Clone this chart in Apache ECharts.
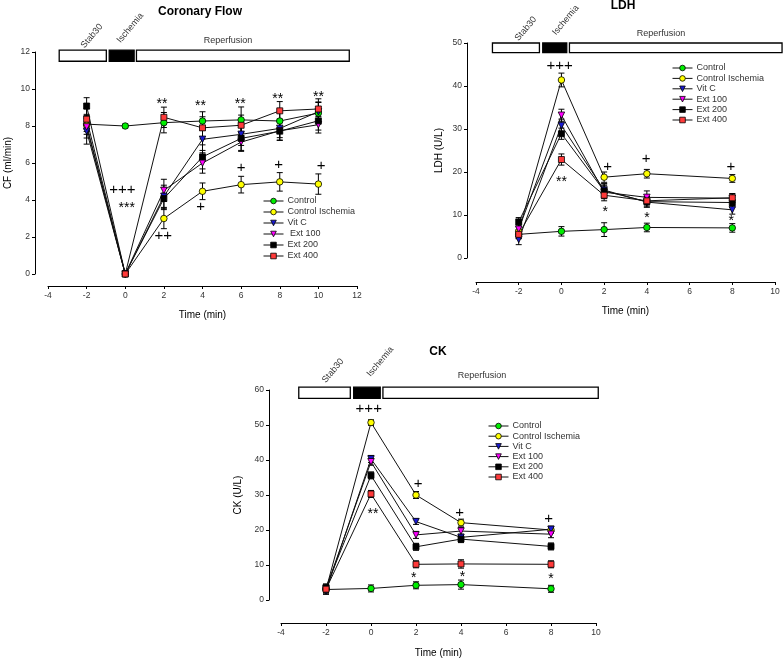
<!DOCTYPE html>
<html><head><meta charset="utf-8">
<script src="https://cdn.jsdelivr.net/npm/echarts@6/dist/echarts.min.js"></script>
<style>html,body{margin:0;padding:0;background:#fff}#c{width:784px;height:659px}</style>
</head><body><div id="c"></div>
<script>
// ---------- DATA ----------
const seriesNames = ['Control', 'Control Ischemia', 'Vit C', 'Ext 100', 'Ext 200', 'Ext 400'];
const cfLegendNames = ['Control', 'Control Ischemia', 'Vit C', ' Ext 100', 'Ext 200', 'Ext 400'];

const cfTime = [-2, 0, 2, 4, 6, 8, 10];
const cfControl = [8.1, 8.0, 8.18, 8.27, 8.33, 8.27, 8.7];
const cfControlIsch = [8.05, 0, 3.0, 4.47, 4.83, 4.98, 4.86];
const cfVitC = [7.72, 0, 4.2, 7.28, 7.55, 7.87, 8.77];
const cfExt100 = [7.95, 0, 4.52, 6.0, 7.13, 7.74, 8.07];
const cfExt200 = [9.08, 0, 4.08, 6.33, 7.33, 7.72, 8.28];
const cfExt400 = [8.37, 0, 8.47, 7.9, 8.04, 8.82, 8.92];
const cfErrControl = [0.4, 0.1, 0.55, 0.5, 0.7, 0.6, 0.6];
const cfErrControlIsch = [0.5, 0, 0.55, 0.45, 0.45, 0.5, 0.55];
const cfErrVitC = [0.7, 0, 0.6, 0.6, 0.6, 0.5, 0.5];
const cfErrExt100 = [0.6, 0, 0.6, 0.55, 0.5, 0.5, 0.45];
const cfErrExt200 = [0.45, 0, 0.6, 0.65, 0.65, 0.5, 0.5];
const cfErrExt400 = [0.55, 0, 0.55, 0.6, 0.55, 0.5, 0.55];

const ldhTime = [-2, 0, 2, 4, 8];
const ldhControl = [5.5, 6.2, 6.6, 7.1, 7.0];
const ldhControlIsch = [6.2, 41.4, 18.8, 19.6, 18.5];
const ldhVitC = [4.3, 30.8, 15.8, 13.0, 11.2];
const ldhExt100 = [6.7, 33.2, 15.3, 14.1, 13.9];
const ldhExt200 = [8.4, 28.9, 15.6, 13.1, 12.9];
const ldhExt400 = [5.5, 22.9, 14.6, 13.3, 14.0];
const ldhErrControl = [1.0, 1.1, 1.6, 1.0, 1.0];
const ldhErrControlIsch = [1.0, 1.6, 1.2, 1.0, 0.9];
const ldhErrVitC = [1.2, 1.5, 1.5, 1.2, 1.0];
const ldhErrExt100 = [1.0, 1.4, 1.5, 1.5, 1.0];
const ldhErrExt200 = [1.0, 1.3, 1.6, 1.2, 1.1];
const ldhErrExt400 = [1.0, 1.3, 1.3, 1.0, 1.0];

const ckTime = [-2, 0, 2, 4, 8];
const ckControl = [3.0, 3.3, 4.2, 4.4, 3.2];
const ckControlIsch = [3.0, 50.7, 30.0, 22.1, 20.0];
const ckVitC = [2.6, 40.3, 22.4, 17.9, 20.2];
const ckExt100 = [3.2, 39.5, 18.6, 19.7, 18.8];
const ckExt200 = [3.6, 35.6, 15.2, 17.4, 15.3];
const ckExt400 = [3.1, 30.3, 10.2, 10.3, 10.2];
const ckErrControl = [1.0, 1.0, 1.0, 1.3, 1.0];
const ckErrControlIsch = [1.0, 0.8, 1.0, 1.0, 0.9];
const ckErrVitC = [1.0, 1.0, 0.8, 0.9, 0.9];
const ckErrExt100 = [1.0, 1.0, 1.0, 1.0, 1.0];
const ckErrExt200 = [1.0, 1.0, 1.0, 1.0, 1.0];
const ckErrExt400 = [1.0, 1.0, 1.0, 1.2, 1.0];

// significance annotations
const cfSigText = ['+++', '***', '**', '**', '**', '**', '**', '++', '+', '+', '+', '+'];
const cfSigX = [-0.15, 0.08, 1.9, 3.9, 5.95, 7.9, 10.0, 1.97, 3.9, 6.0, 7.94, 10.14];
const cfSigY = [4.57, 3.78, 9.39, 9.3, 9.39, 9.66, 9.8, 2.07, 3.63, 5.74, 5.92, 5.85];
const ldhSigText = ['+++', '**', '+', '+', '+', '*', '*', '*'];
const ldhSigX = [-0.08, 0.0, 2.16, 3.97, 7.94, 2.05, 4.0, 7.95];
const ldhSigY = [44.8, 18.6, 21.3, 23.1, 21.3, 11.5, 10.3, 9.4];
const ckSigText = ['+++', '**', '+', '+', '+', '*', '*', '*'];
const ckSigX = [-0.1, 0.09, 2.09, 3.94, 7.9, 1.9, 4.07, 8.0];
const ckSigY = [54.5, 25.7, 33.3, 24.8, 23.1, 7.3, 7.8, 7.1];

// protocol periods (time units / axis units)
const periodNames = ['Stab30', 'Ischemia', 'Reperfusion'];
const cfPeriodStart = [-3.42, -0.83, 0.58];
const cfPeriodEnd = [-0.98, 0.46, 11.6];
const cfPeriodLow = 11.5, cfPeriodHigh = 12.1;
const cfPeriodLabelX = [-1.73, 0.26, 5.32];
const cfPeriodLabelY = [12.86, 13.3, 12.6];
const ldhPeriodStart = [-3.23, -0.875, 0.375];
const ldhPeriodEnd = [-1.03, 0.25, 10.33];
const ldhPeriodLow = 47.75, ldhPeriodHigh = 50;
const ldhPeriodLabelX = [-1.67, 0.2, 4.66];
const ldhPeriodLabelY = [53.3, 55.3, 52.3];
const ckPeriodStart = [-3.21, -0.77, 0.53];
const ckPeriodEnd = [-0.92, 0.41, 10.1];
const ckPeriodLow = 57.6, ckPeriodHigh = 60.8;
const ckPeriodLabelX = [-1.69, 0.41, 4.93];
const ckPeriodLabelY = [65.5, 68.1, 64];

// ---------- STYLE ----------
const styles = [
  {color: '#00ee00', symbol: 'circle', size: 6.5, rot: 0},
  {color: '#ffff00', symbol: 'circle', size: 6.5, rot: 0},
  {color: '#1a1ad0', symbol: 'triangle', size: 6.5, rot: 180},
  {color: '#ff00ff', symbol: 'triangle', size: 6.5, rot: 180},
  {color: '#000000', symbol: 'rect', size: 6, rot: 0},
  {color: '#ff3a3a', symbol: 'rect', size: 6, rot: 0}
];

const charts = [
  {time: cfTime, vals: [cfControl, cfControlIsch, cfVitC, cfExt100, cfExt200, cfExt400],
   errs: [cfErrControl, cfErrControlIsch, cfErrVitC, cfErrExt100, cfErrExt200, cfErrExt400],
   names: cfLegendNames,
   sig: [cfSigText, cfSigX, cfSigY],
   per: [cfPeriodStart, cfPeriodEnd, cfPeriodLow, cfPeriodHigh, cfPeriodLabelX, cfPeriodLabelY]},
  {time: ldhTime, vals: [ldhControl, ldhControlIsch, ldhVitC, ldhExt100, ldhExt200, ldhExt400],
   errs: [ldhErrControl, ldhErrControlIsch, ldhErrVitC, ldhErrExt100, ldhErrExt200, ldhErrExt400],
   names: seriesNames,
   sig: [ldhSigText, ldhSigX, ldhSigY],
   per: [ldhPeriodStart, ldhPeriodEnd, ldhPeriodLow, ldhPeriodHigh, ldhPeriodLabelX, ldhPeriodLabelY]},
  {time: ckTime, vals: [ckControl, ckControlIsch, ckVitC, ckExt100, ckExt200, ckExt400],
   errs: [ckErrControl, ckErrControlIsch, ckErrVitC, ckErrExt100, ckErrExt200, ckErrExt400],
   names: seriesNames,
   sig: [ckSigText, ckSigX, ckSigY],
   per: [ckPeriodStart, ckPeriodEnd, ckPeriodLow, ckPeriodHigh, ckPeriodLabelX, ckPeriodLabelY]}
];

const FONT = 'Arial, "Liberation Sans", sans-serif';
const grid = [
  {left: 48, top: 52, width: 309, height: 222},
  {left: 476, top: 43, width: 299, height: 215},
  {left: 281, top: 390, width: 315, height: 210}
];
const xCfg = [{min: -4, max: 12, offset: 12, gap: 24}, {min: -4, max: 10, offset: 24, gap: 24}, {min: -4, max: 10, offset: 23, gap: 25}];
const yCfg = [
  {min: 0, max: 12, interval: 2, offset: 13, name: 'CF (ml/min)', gap: 22},
  {min: 0, max: 50, interval: 10, offset: 9, name: 'LDH (U/L)', gap: 23},
  {min: 0, max: 60, interval: 10, offset: 12, name: 'CK (U/L)', gap: 26}
];

const xAxis = xCfg.map((c, i) => ({
  type: 'value', gridIndex: i, min: c.min, max: c.max, interval: 2, offset: c.offset,
  name: 'Time (min)', nameLocation: 'middle', nameGap: c.gap,
  nameTextStyle: {fontSize: 10, color: '#000', fontFamily: FONT},
  axisLine: {show: true, onZero: false, lineStyle: {color: '#000', width: 1}},
  axisTick: {show: true, length: 3, lineStyle: {color: '#000'}},
  axisLabel: {fontSize: 8.5, color: '#333', margin: 5, fontFamily: FONT},
  splitLine: {show: false}
}));
const yAxis = yCfg.map((c, i) => ({
  type: 'value', gridIndex: i, min: c.min, max: c.max, interval: c.interval, offset: c.offset,
  name: c.name, nameLocation: 'middle', nameGap: c.gap, nameRotate: 90,
  nameTextStyle: {fontSize: 10, color: '#000', fontFamily: FONT},
  axisLine: {show: true, onZero: false, lineStyle: {color: '#000', width: 1}},
  axisTick: {show: true, length: 3, lineStyle: {color: '#000'}},
  axisLabel: {fontSize: 8.5, color: '#333', margin: 5, fontFamily: FONT},
  splitLine: {show: false}
}));

const series = [];
charts.forEach((ch, gi) => {
  // protocol period boxes
  const perData = ch.per[0].map((s, k) => [s, ch.per[1][k], ch.per[2], ch.per[3], ch.per[4][k], ch.per[5][k], k]);
  series.push({
    type: 'custom', xAxisIndex: gi, yAxisIndex: gi, clip: false, z: 1, silent: true,
    data: perData,
    renderItem: (params, api) => {
      const k = api.value(6);
      const p0 = api.coord([api.value(0), api.value(3)]);
      const p1 = api.coord([api.value(1), api.value(2)]);
      const lp = api.coord([api.value(4), api.value(5)]);
      const rot = k < 2 ? 50 * Math.PI / 180 : 0;
      return {type: 'group', children: [
        {type: 'rect', shape: {x: p0[0], y: p0[1], width: p1[0] - p0[0], height: p1[1] - p0[1]},
         style: {fill: k === 1 ? '#000' : '#fff', stroke: '#000', lineWidth: 1.3}},
        {type: 'text', x: lp[0], y: lp[1], rotation: rot,
         style: {text: periodNames[k], fill: '#333', font: '9px ' + FONT, align: 'center', verticalAlign: 'middle'}}
      ]};
    }
  });
  // error bars
  const errData = [];
  ch.vals.forEach((arr, si) => arr.forEach((v, j) => errData.push([ch.time[j], v, ch.errs[si][j]])));
  series.push({
    type: 'custom', xAxisIndex: gi, yAxisIndex: gi, z: 2, silent: true,
    data: errData,
    renderItem: (params, api) => {
      const x = api.value(0), y = api.value(1), e = api.value(2);
      if (!e) return null;
      const top = api.coord([x, y + e]);
      const bot = api.coord([x, y - e]);
      const st = {stroke: '#000', lineWidth: 1};
      return {type: 'group', children: [
        {type: 'line', shape: {x1: top[0], y1: top[1], x2: bot[0], y2: bot[1]}, style: st},
        {type: 'line', shape: {x1: top[0] - 3, y1: top[1], x2: top[0] + 3, y2: top[1]}, style: st},
        {type: 'line', shape: {x1: bot[0] - 3, y1: bot[1], x2: bot[0] + 3, y2: bot[1]}, style: st}
      ]};
    }
  });
  // data lines
  ch.vals.forEach((arr, si) => {
    const s = styles[si];
    series.push({
      type: 'line', name: ch.names[si], xAxisIndex: gi, yAxisIndex: gi, z: 3,
      data: arr.map((v, j) => [ch.time[j], v]),
      symbol: s.symbol, symbolSize: s.size, symbolRotate: s.rot, showAllSymbol: true,
      itemStyle: {color: s.color, borderColor: '#000', borderWidth: 0.8},
      lineStyle: {color: '#111', width: 1},
      emphasis: {disabled: true}, animation: false
    });
  });
  // significance marks
  const sigData = ch.sig[0].map((t, k) => [ch.sig[1][k], ch.sig[2][k], k]);
  series.push({
    type: 'custom', xAxisIndex: gi, yAxisIndex: gi, z: 4, silent: true, clip: false,
    data: sigData,
    renderItem: (params, api) => {
      const k = api.value(2);
      const t = ch.sig[0][k];
      const p = api.coord([api.value(0), api.value(1)]);
      const star = t.indexOf('*') >= 0;
      return {type: 'text', x: p[0], y: p[1] + (star ? 4 : 0),
        style: {text: t, fill: '#000', font: (star ? '14px ' : '15px ') + FONT, align: 'center', verticalAlign: 'middle'}};
    }
  });
});

const legendBase = {
  orient: 'vertical', selectedMode: false, itemWidth: 20, itemHeight: 7, itemGap: 2,
  symbolRotate: 'inherit',
  itemStyle: {borderWidth: 0.8, borderColor: '#000'},
  lineStyle: {width: 1, color: '#111'},
  textStyle: {fontSize: 9, lineHeight: 9, color: '#333', fontFamily: FONT, padding: [0, 0, 0, -1]}, padding: 0
};
const legend = [
  Object.assign({}, legendBase, {left: 263, top: 196.5, itemGap: 2, data: cfLegendNames}),
  Object.assign({}, legendBase, {left: 672, top: 63.5, itemGap: 1.4, data: seriesNames}),
  Object.assign({}, legendBase, {left: 488, top: 421.5, itemGap: 1.2, data: seriesNames})
];

const title = [
  {text: 'Coronary Flow', left: 200, top: 6, textAlign: 'center'},
  {text: 'LDH', left: 623, top: 0, textAlign: 'center'},
  {text: 'CK', left: 438, top: 346, textAlign: 'center'}
].map(t => Object.assign(t, {padding: 0, textStyle: {fontSize: 12, fontWeight: 'bold', color: '#000', fontFamily: FONT}}));

const chart = echarts.init(document.getElementById('c'), null, {renderer: 'canvas'});
chart.setOption({
  animation: false, backgroundColor: '#fff',
  title, legend, grid, xAxis, yAxis, series
});
</script>
</body></html>
